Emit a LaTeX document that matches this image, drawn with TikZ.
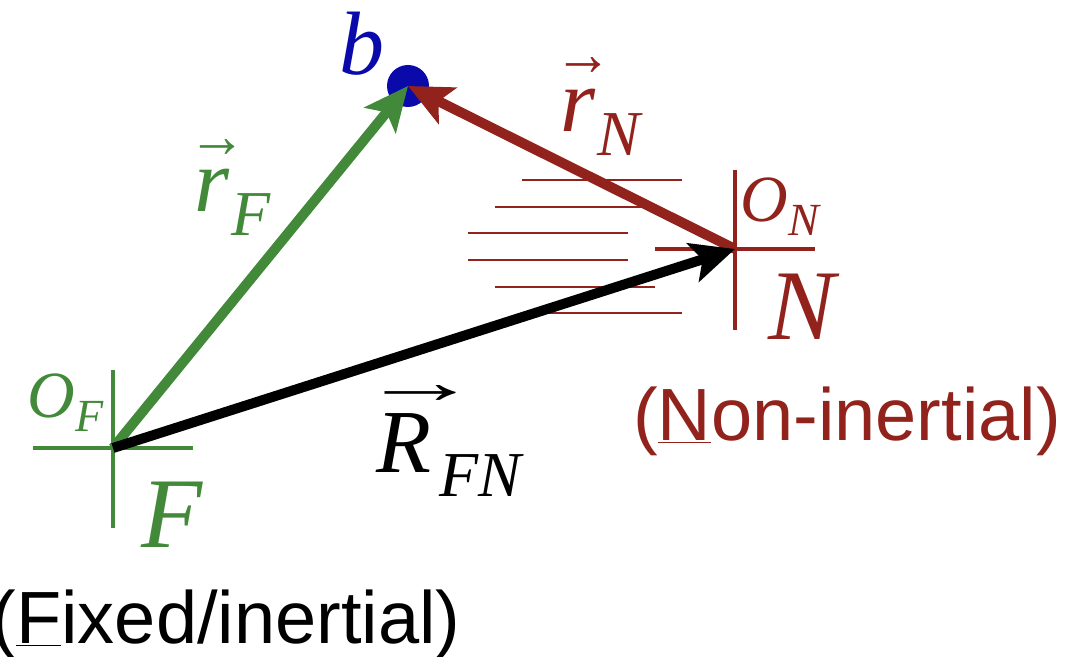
\documentclass[tikz,border=0pt]{standalone}
\usepackage{graphicx}
\usepackage{fontspec}
\setmainfont{Liberation Serif}
\setsansfont{Liberation Sans}
\usepackage{xcolor}
\usepackage{tikz}
\usetikzlibrary{arrows.meta}

\definecolor{fixgreen}{RGB}{66,138,58}
\definecolor{nonred}{RGB}{146,34,28}
\definecolor{bodyblue}{RGB}{10,10,170}

% letter with a long arrow over it, then a lowered subscript
% #1 letter, #2 subscript, #3 arrow width, #4 arrow shift, #5 arrow rise, #6 kern
\newcommand{\veclbl}[6]{\rlap{\hskip#4\raisebox{#5}{\resizebox{#3}{9pt}{\upshape\bfseries\symbol{"2192}}}}%
  \textit{#1}\hskip#6\raisebox{-12pt}{\fontsize{32}{32}\selectfont\itshape #2}}
\newcommand{\origlbl}[2]{\textit{#1}\raisebox{-7pt}{\fontsize{23}{23}\selectfont\itshape #2}}

\begin{document}
\begin{tikzpicture}[x=0.5pt,y=-0.5pt,
  axis/.style={line width=1.8pt,line cap=butt},
  vecarr/.style={-{Stealth[length=22pt,width=20pt,inset=5pt]},line width=5pt},
  hatch/.style={nonred,line width=0.7pt},
  mathlbl/.style={font=\fontsize{45}{50}\selectfont,inner sep=0pt},
  origin/.style={font=\fontsize{33}{38}\selectfont,inner sep=0pt},
  framelbl/.style={font=\fontsize{50}{56}\selectfont\itshape,inner sep=0pt},
  caption/.style={font=\sffamily\fontsize{37}{42}\selectfont,inner sep=0pt},
  dot/.style={circle,fill=bodyblue,minimum size=21pt,inner sep=0pt}
]
\useasboundingbox (0,0) rectangle (1075,657);

% Origins
\coordinate (OF) at (113,448);
\coordinate (ON) at (735,249);

% Hatching of the moving frame
\foreach \y/\xa in {180/522,207/495,233/468,260/468,287/495,313/522}
  \draw[hatch] (\xa,\y) -- ++(160,0);

% Frame F axes
\draw[axis,fixgreen] (33,448) -- (193,448);
\draw[axis,fixgreen] (113,370) -- (113,528);

% Frame N axes
\draw[axis,nonred] (655,249) -- (815,249);
\draw[axis,nonred] (735,170) -- (735,330);

% Body
\node[dot] (b) at (408,86) {};

% Vectors
\draw[vecarr,fixgreen] (OF) -- (b.center);
\draw[vecarr,nonred] (ON) -- (b.center);
\draw[vecarr,black] (OF) -- (ON);

% Labels
\node[mathlbl,text=bodyblue] (blbl) at (362,44) {\textit{b}};
\node[mathlbl,text=fixgreen,anchor=base west] (rF) at (194,212) {\veclbl{r}{F}{29pt}{-3pt}{27pt}{1pt}};
\node[mathlbl,text=nonred,anchor=base west] (rN) at (560,132) {\veclbl{r}{N}{29pt}{-3pt}{28pt}{1pt}};
\node[mathlbl,anchor=base west] (RFN) at (376,472) {\veclbl{R}{FN}{60pt}{-8pt}{34pt}{4pt}};

\node[origin,text=fixgreen,anchor=base west] (OFlbl) at (27,417) {\origlbl{O}{F}};
\node[origin,text=nonred,anchor=base west] (ONlbl) at (740,222) {\origlbl{O}{N}};

\node[framelbl,text=fixgreen,anchor=base] (Flbl) at (172,547) {F};
\node[framelbl,text=nonred,anchor=base] (Nlbl) at (802,340) {N};

\node[caption,anchor=base] (Fcap) at (226,643) {(\underline{F}ixed/inertial)};
\node[caption,text=nonred,anchor=base] (Ncap) at (847,440) {(\underline{N}on-inertial)};

\end{tikzpicture}
\end{document}
